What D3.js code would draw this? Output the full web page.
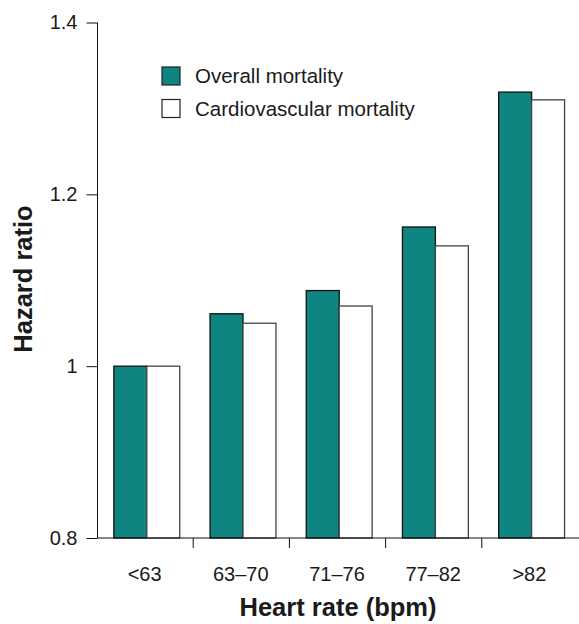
<!DOCTYPE html>
<html>
<head>
<meta charset="utf-8">
<script src="https://cdn.jsdelivr.net/npm/d3@7"></script>
<style>
  body { margin: 0; background: #fff; }
  text { font-family: Arial, "Liberation Sans", sans-serif; fill: #1a1a1a; }
</style>
</head>
<body>
<div class="chart"></div>
<script>
// values
var categories = ["<63", "63–70", "71–76", "77–82", ">82"];
var seriesNames = ["Overall mortality", "Cardiovascular mortality"];
var overall = [1.0, 1.061, 1.088, 1.162, 1.319];
var cardio = [1.0, 1.05, 1.07, 1.14, 1.31];
var yTicks = [0.8, 1.0, 1.2, 1.4];
var yTickLabels = ["0.8", "1", "1.2", "1.4"];
var colours = ["#0f8581", "#ffffff"];

var width = 579, height = 624;

var svg = d3.select(".chart").append("svg")
    .attr("width", width)
    .attr("height", height);

var y = d3.scaleLinear().domain([0.8, 1.4]).range([538, 22.5]);
var x = d3.scaleBand().domain(categories).range([97.5, 578.5]);
var x1 = d3.scaleBand().domain(seriesNames)
    .range([x.bandwidth() * 0.17, x.bandwidth() * 0.855]);

var rows = categories.map((c, i) => ({ cat: c, vals: [overall[i], cardio[i]] }));

// bars
var groups = svg.append("g").selectAll("g")
    .data(rows)
    .enter()
    .append("g")
    .attr("transform", d => "translate(" + x(d.cat) + ",0)");

groups.selectAll("rect")
    .data(d => d.vals.map((v, j) => ({ name: seriesNames[j], v: v, j: j })))
    .enter()
    .append("rect")
    .attr("x", d => x1(d.name))
    .attr("y", d => y(d.v))
    .attr("width", x1.bandwidth())
    .attr("height", d => y(0.8) - y(d.v))
    .attr("fill", d => colours[d.j])
    .attr("stroke", d => d.j == 0 ? "#111" : "#444")
    .attr("stroke-width", 1.3);

// y axis
var yAxis = svg.append("g")
    .attr("transform", "translate(97.5,0)")
    .call(d3.axisLeft(y).tickValues(yTicks).tickSize(11).tickPadding(9)
        .tickFormat((d, i) => yTickLabels[i]));
yAxis.select(".domain").attr("d", "M0," + y(1.4) + "V" + y(0.8)).attr("stroke", "#111");
yAxis.selectAll(".tick line").attr("stroke", "#111");
yAxis.selectAll("text").attr("font-size", 20).attr("fill", "#1a1a1a")
    .attr("font-family", "Arial, 'Liberation Sans', sans-serif");

// x axis
var xAxis = svg.append("g")
    .attr("transform", "translate(0,538)");
xAxis.append("line")
    .attr("x1", 97.5).attr("x2", 579)
    .attr("stroke", "#111");
xAxis.selectAll(".sep")
    .data(categories.slice(1))
    .enter()
    .append("line")
    .attr("x1", d => x(d) - 0.5)
    .attr("x2", d => x(d) - 0.5)
    .attr("y1", 0).attr("y2", 10)
    .attr("stroke", "#111");
xAxis.selectAll(".lab")
    .data(categories)
    .enter()
    .append("text")
    .attr("x", d => x(d) + x.bandwidth() / 2 - 1)
    .attr("y", 43)
    .attr("text-anchor", "middle")
    .attr("font-size", 20)
    .text(d => d);

// axis titles
svg.append("text")
    .attr("x", 338)
    .attr("y", 616)
    .attr("text-anchor", "middle")
    .attr("font-size", 25.5)
    .attr("font-weight", "bold")
    .text("Heart rate (bpm)");

svg.append("text")
    .attr("transform", "translate(32,279) rotate(-90)")
    .attr("text-anchor", "middle")
    .attr("font-size", 25.5)
    .attr("font-weight", "bold")
    .text("Hazard ratio");

// legend
var legend = svg.append("g").selectAll("g")
    .data(seriesNames)
    .enter()
    .append("g")
    .attr("transform", (d, i) => "translate(162," + (67 + i * 32.5) + ")");
legend.append("rect")
    .attr("width", 18).attr("height", 18)
    .attr("fill", (d, i) => colours[i])
    .attr("stroke", "#222")
    .attr("stroke-width", 1.2);
legend.append("text")
    .attr("x", 33)
    .attr("y", 16)
    .attr("font-size", 20.5)
    .text(d => d);
</script>
</body>
</html>
